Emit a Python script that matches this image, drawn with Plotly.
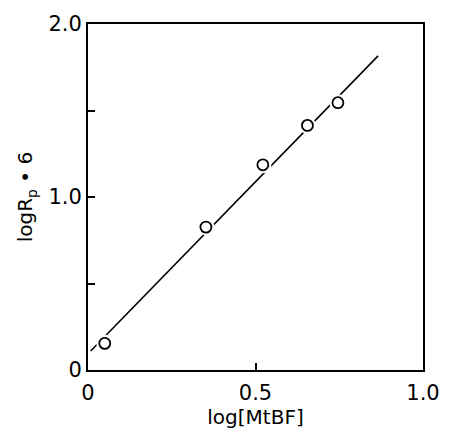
import plotly.graph_objects as go

# data
log_mtbf = [0.050, 0.352, 0.522, 0.655, 0.746]
log_rp6 = [0.154, 0.826, 1.186, 1.414, 1.545]
fit_x = [0.008, 0.866]
fit_y = [0.110, 1.816]

x_tickvals = [0, 0.5, 1.0]
x_ticktext = ["0", "0.5", "1.0"]
y_tickvals = [0, 1.0, 2.0]
y_ticktext = ["0", "1.0", "2.0"]

font_family = "DejaVu Sans, Verdana, sans-serif"

fig = go.Figure()
fig.add_trace(go.Scatter(x=fit_x, y=fit_y, mode="lines",
                         line=dict(color="black", width=1.6), showlegend=False))
# white halo so the line breaks around the circles
fig.add_trace(go.Scatter(x=log_mtbf, y=log_rp6, mode="markers",
                         marker=dict(symbol="circle", size=17, color="white",
                                     line=dict(width=0)), showlegend=False))
fig.add_trace(go.Scatter(x=log_mtbf, y=log_rp6, mode="markers",
                         marker=dict(symbol="circle", size=11, color="white",
                                     line=dict(color="black", width=1.8)),
                         showlegend=False))

axis_common = dict(showgrid=False, zeroline=False, showline=True, linecolor="black",
                   linewidth=2, mirror=True, ticks="inside", ticklen=7, tickwidth=2,
                   tickcolor="black", tickfont=dict(family=font_family, size=21, color="black"))

fig.update_xaxes(range=[0, 1.0], tickvals=x_tickvals, ticktext=x_ticktext,
                 ticklabelstandoff=3,
                 title=dict(text="log[MtBF]", font=dict(family=font_family, size=20, color="black"),
                            standoff=5), **axis_common)
fig.update_yaxes(range=[0, 2.0], tickvals=y_tickvals, ticktext=y_ticktext,
                 minor=dict(dtick=0.5, ticks="inside", ticklen=7, tickwidth=2, tickcolor="black"),
                 title=dict(text="logR<sub>p</sub> • 6", font=dict(family=font_family, size=20, color="black"),
                            standoff=10), **axis_common)

fig.update_layout(width=452, height=440, margin=dict(l=88, r=18, t=23, b=70),
                  plot_bgcolor="white", paper_bgcolor="white")

fig.write_html("out.html")
